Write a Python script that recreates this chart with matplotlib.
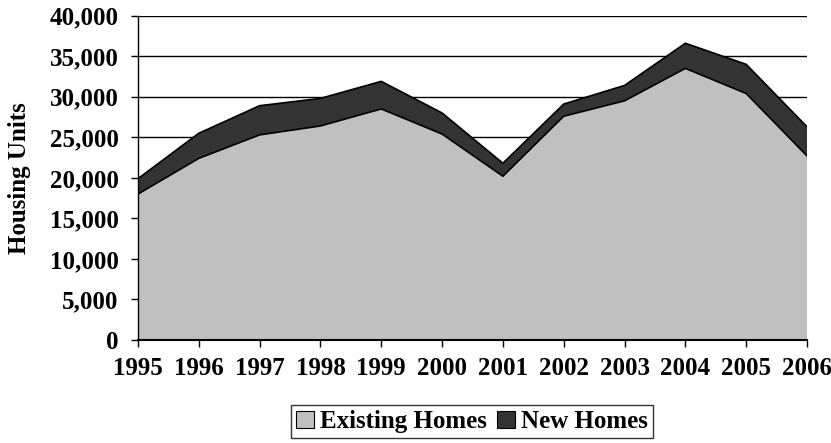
import matplotlib.pyplot as plt
import numpy as np
from matplotlib.patches import Patch

# Data
years = [1995, 1996, 1997, 1998, 1999, 2000, 2001, 2002, 2003, 2004, 2005, 2006]
existing = [18000, 22400, 25300, 26400, 28500, 25400, 20200, 27600, 29500, 33500, 30400, 22700]
new = [1900, 3100, 3600, 3400, 3400, 2600, 1600, 1500, 1900, 3100, 3600, 3600]

plt.rcParams['font.family'] = ['Liberation Serif', 'DejaVu Serif']
plt.rcParams['font.weight'] = 'bold'

fig = plt.figure(figsize=(8.31, 4.43), dpi=100)
ax = fig.add_axes([138 / 831, 1 - 340 / 443, (807 - 138) / 831, (340 - 15.7) / 443])

x = np.array(years)
ex = np.array(existing)
tot = ex + np.array(new)

# grid lines behind the areas
for v in range(5000, 40001, 5000):
    ax.axhline(v, color='black', lw=1, zorder=0)

ax.fill_between(x, 0, ex, facecolor='#C0C0C0', edgecolor='none', zorder=1)
ax.fill_between(x, ex, tot, facecolor='#333333', edgecolor='none', zorder=1)
ax.plot(x, ex, color='black', lw=1.2, zorder=2)
ax.plot(x, tot, color='black', lw=1.2, zorder=2)

ax.set_xlim(1995, 2006)
ax.set_ylim(0, 40000)
ax.set_xticks(years)
ax.set_yticks(range(0, 40001, 5000))
ax.set_yticklabels([f'{v:,}' for v in range(0, 40001, 5000)])
ax.tick_params(axis='both', direction='out', length=5, width=1, labelsize=18, color='black')
ax.tick_params(axis='x', pad=7)
ax.tick_params(axis='y', pad=9)
for lab in ax.get_xticklabels() + ax.get_yticklabels():
    lab.set_fontweight('bold')

for s in ['top', 'right']:
    ax.spines[s].set_visible(False)
ax.spines['left'].set_linewidth(1)
ax.spines['bottom'].set_linewidth(1.5)

ax.set_ylabel('Housing Units', fontsize=18, fontweight='bold')
ax.yaxis.set_label_coords((31 - 138) / 669, 0.5)

handles = [Patch(facecolor='#C0C0C0', edgecolor='black', lw=0.8, label='Existing Homes'),
           Patch(facecolor='#333333', edgecolor='black', lw=0.8, label='New Homes')]
leg = fig.legend(handles=handles, loc='upper center', bbox_to_anchor=(472 / 831, 1 - 405 / 443),
                 ncol=2, fancybox=False, frameon=True, edgecolor='black',
                 prop={'size': 18, 'weight': 'bold'}, handlelength=0.7, handleheight=0.7,
                 handletextpad=0.25, columnspacing=0.4, borderpad=0.2, borderaxespad=0)
leg.get_frame().set_linewidth(1)

fig.savefig('out.png', dpi=100)
